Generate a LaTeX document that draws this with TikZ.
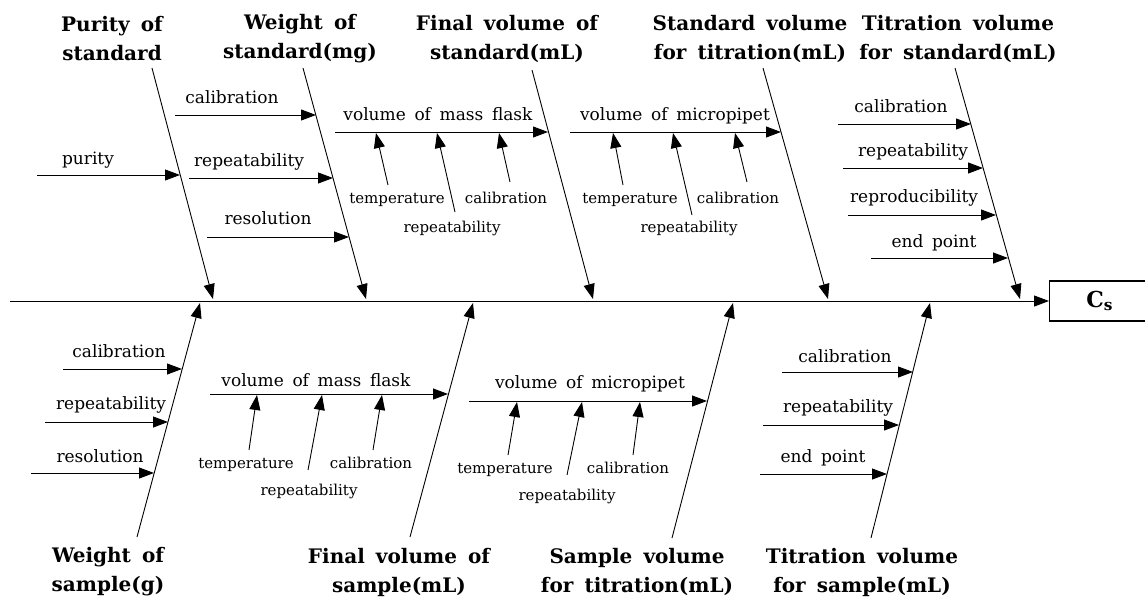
\documentclass[tikz,border=0pt]{standalone}
\usepackage{fontspec}
\setmainfont[WordSpace=1.6]{DejaVu Serif}
\usetikzlibrary{arrows.meta,positioning}

\begin{document}
\begin{tikzpicture}[x=1pt, y=-1pt, line width=0.9pt,
  bone/.style={-{Triangle[length=15pt,width=11pt]}},
  cause/.style={align=center, font=\fontsize{20}{29}\selectfont\bfseries},
  factor/.style={anchor=base, fill=white, inner sep=1pt, font=\fontsize{17}{20}\selectfont},
  subfactor/.style={anchor=base, fill=white, inner sep=1pt, font=\fontsize{15}{18}\selectfont}]
\useasboundingbox (0,0) rectangle (1145,599);

% spine and result
\coordinate (s0) at (10,301);
\node[draw, line width=1.4pt, anchor=west, minimum width=100pt, minimum height=40pt, font=\fontsize{22}{24}\selectfont\bfseries] (cs) at (1049,301) {C\textsubscript{s}};
\draw[bone] (s0) -- (cs.west);

% upper bones
\coordinate (a1) at (152,68);
\coordinate (a1e) at (213,299);
\coordinate (a2) at (303,68);
\coordinate (a2e) at (366,299);
\coordinate (a3) at (532,70);
\coordinate (a3e) at (593,299);
\coordinate (a4) at (763,68);
\coordinate (a4e) at (828,299);
\coordinate (a5) at (955,68);
\coordinate (a5e) at (1020,299);
\draw[bone] (a1) -- (a1e);
\draw[bone] (a2) -- (a2e);
\draw[bone] (a3) -- (a3e);
\draw[bone] (a4) -- (a4e);
\draw[bone] (a5) -- (a5e);

% lower bones
\coordinate (b1) at (137,537);
\coordinate (b1e) at (200,303);
\coordinate (b2) at (410,537);
\coordinate (b2e) at (473,303);
\coordinate (b3) at (672,538);
\coordinate (b3e) at (733,303);
\coordinate (b4) at (871,538);
\coordinate (b4e) at (930,303);
\draw[bone] (b1) -- (b1e);
\draw[bone] (b2) -- (b2e);
\draw[bone] (b3) -- (b3e);
\draw[bone] (b4) -- (b4e);

% purity of standard
\coordinate (a1r1s) at (37,175);
\coordinate (a1r1) at (180,175);
\draw[bone] (a1r1s) -- (a1r1);

% weight of standard
\coordinate (a2r1s) at (175,115);
\coordinate (a2r1) at (316,115);
\coordinate (a2r2s) at (189,178);
\coordinate (a2r2) at (333,178);
\coordinate (a2r3s) at (207,237);
\coordinate (a2r3) at (349,237);
\draw[bone] (a2r1s) -- (a2r1);
\draw[bone] (a2r2s) -- (a2r2);
\draw[bone] (a2r3s) -- (a2r3);

% final volume of standard
\coordinate (a3r1s) at (335,132);
\coordinate (a3r1) at (548,132);
\coordinate (a3t1s) at (388,185);
\coordinate (a3t1) at (376,133);
\coordinate (a3t2s) at (455,212);
\coordinate (a3t2) at (437,133);
\coordinate (a3t3s) at (510,182);
\coordinate (a3t3) at (499,133);
\draw[bone] (a3r1s) -- (a3r1);
\draw[bone] (a3t1s) -- (a3t1);
\draw[bone] (a3t2s) -- (a3t2);
\draw[bone] (a3t3s) -- (a3t3);

% standard volume for titration
\coordinate (a4r1s) at (570,132);
\coordinate (a4r1) at (781,132);
\coordinate (a4t1s) at (623,185);
\coordinate (a4t1) at (613,133);
\coordinate (a4t2s) at (692,215);
\coordinate (a4t2) at (673,133);
\coordinate (a4t3s) at (747,182);
\coordinate (a4t3) at (735,133);
\draw[bone] (a4r1s) -- (a4r1);
\draw[bone] (a4t1s) -- (a4t1);
\draw[bone] (a4t2s) -- (a4t2);
\draw[bone] (a4t3s) -- (a4t3);

% titration volume for standard
\coordinate (a5r1s) at (838,124);
\coordinate (a5r1) at (971,124);
\coordinate (a5r2s) at (843,168);
\coordinate (a5r2) at (983,168);
\coordinate (a5r3s) at (848,215);
\coordinate (a5r3) at (996,215);
\coordinate (a5r4s) at (871,258);
\coordinate (a5r4) at (1008,258);
\draw[bone] (a5r1s) -- (a5r1);
\draw[bone] (a5r2s) -- (a5r2);
\draw[bone] (a5r3s) -- (a5r3);
\draw[bone] (a5r4s) -- (a5r4);

% weight of sample
\coordinate (b1r1s) at (63,369);
\coordinate (b1r1) at (182,369);
\coordinate (b1r2s) at (45,422);
\coordinate (b1r2) at (168,422);
\coordinate (b1r3s) at (31,473);
\coordinate (b1r3) at (154,473);
\draw[bone] (b1r1s) -- (b1r1);
\draw[bone] (b1r2s) -- (b1r2);
\draw[bone] (b1r3s) -- (b1r3);

% final volume of sample
\coordinate (b2r1s) at (210,394);
\coordinate (b2r1) at (448,394);
\coordinate (b2t1s) at (249,450);
\coordinate (b2t1) at (257,395);
\coordinate (b2t2s) at (308,470);
\coordinate (b2t2) at (322,395);
\coordinate (b2t3s) at (373,450);
\coordinate (b2t3) at (382,395);
\draw[bone] (b2r1s) -- (b2r1);
\draw[bone] (b2t1s) -- (b2t1);
\draw[bone] (b2t2s) -- (b2t2);
\draw[bone] (b2t3s) -- (b2t3);

% sample volume for titration
\coordinate (b3r1s) at (469,401);
\coordinate (b3r1) at (707,401);
\coordinate (b3t1s) at (508,455);
\coordinate (b3t1) at (517,402);
\coordinate (b3t2s) at (567,475);
\coordinate (b3t2) at (582,402);
\coordinate (b3t3s) at (633,455);
\coordinate (b3t3) at (640,402);
\draw[bone] (b3r1s) -- (b3r1);
\draw[bone] (b3t1s) -- (b3t1);
\draw[bone] (b3t2s) -- (b3t2);
\draw[bone] (b3t3s) -- (b3t3);

% titration volume for sample
\coordinate (b4r1s) at (782,372);
\coordinate (b4r1) at (913,372);
\coordinate (b4r2s) at (763,425);
\coordinate (b4r2) at (899,425);
\coordinate (b4r3s) at (760,474);
\coordinate (b4r3) at (887,474);
\draw[bone] (b4r1s) -- (b4r1);
\draw[bone] (b4r2s) -- (b4r2);
\draw[bone] (b4r3s) -- (b4r3);

% causes
\node[cause] (ca1) at (112,39) {Purity of\\standard};
\node[cause] (ca2) at (300,39) {Weight of\\standard(mg)};
\node[cause] (ca3) at (507,39) {Final volume of\\standard(mL)};
\node[cause] (ca4) at (750,39) {Standard volume\\for titration(mL)};
\node[cause] (ca5) at (958,39) {Titration volume\\for standard(mL)};
\node[cause] (cb1) at (108,572) {Weight of\\sample(g)};
\node[cause] (cb2) at (399,572) {Final volume of\\sample(mL)};
\node[cause] (cb3) at (637,572) {Sample volume\\for titration(mL)};
\node[cause] (cb4) at (862,572) {Titration volume\\for sample(mL)};

% factor labels
\node[factor] (la1r1) at (88,164) {purity};
\node[factor] (la2r1) at (232,103) {calibration};
\node[factor] (la2r2) at (249,166) {repeatability};
\node[factor] (la2r3) at (268,224) {resolution};
\node[factor] (la3r1) at (438,121) {volume of mass flask};
\node[subfactor] (la3t1) at (397,203) {temperature};
\node[subfactor] (la3t2) at (452,232) {repeatability};
\node[subfactor] (la3t3) at (506,203) {calibration};
\node[factor] (la4r1) at (675,121) {volume of micropipet};
\node[subfactor] (la4t1) at (630,203) {temperature};
\node[subfactor] (la4t2) at (689,232) {repeatability};
\node[subfactor] (la4t3) at (738,203) {calibration};
\node[factor] (la5r1) at (901,113) {calibration};
\node[factor] (la5r2) at (913,157) {repeatability};
\node[factor] (la5r3) at (914,202) {reproducibility};
\node[factor] (la5r4) at (934,247) {end point};
\node[factor] (lb1r1) at (119,357) {calibration};
\node[factor] (lb1r2) at (111,409) {repeatability};
\node[factor] (lb1r3) at (100,462) {resolution};
\node[factor] (lb2r1) at (316,386) {volume of mass flask};
\node[subfactor] (lb2t1) at (246,468) {temperature};
\node[subfactor] (lb2t2) at (309,495) {repeatability};
\node[subfactor] (lb2t3) at (371,468) {calibration};
\node[factor] (lb3r1) at (590,388) {volume of micropipet};
\node[subfactor] (lb3t1) at (505,473) {temperature};
\node[subfactor] (lb3t2) at (567,500) {repeatability};
\node[subfactor] (lb3t3) at (628,473) {calibration};
\node[factor] (lb4r1) at (845,362) {calibration};
\node[factor] (lb4r2) at (838,412) {repeatability};
\node[factor] (lb4r3) at (823,462) {end point};
\end{tikzpicture}
\end{document}
